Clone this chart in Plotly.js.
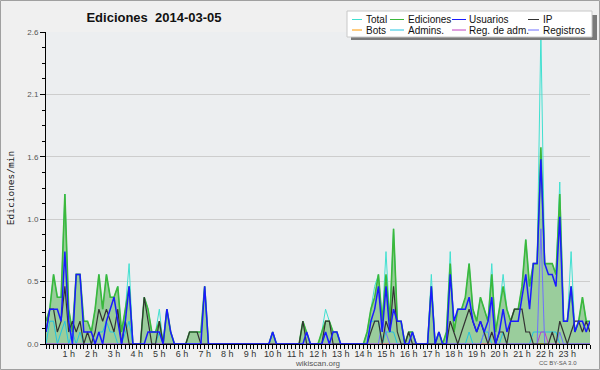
<!DOCTYPE html>
<html><head><meta charset="utf-8">
<script src="https://cdn.plot.ly/plotly-3.0.1.min.js"></script>
<style>html,body{margin:0;padding:0;background:#f0f0f0;overflow:hidden}#chart{width:600px;height:370px}</style>
</head><body><div id="chart"></div>
<script>
// ---- data (edits per minute, 10-minute bins, 00:00 .. 24:00) ----
const hourTicks = [1,2,3,4,5,6,7,8,9,10,11,12,13,14,15,16,17,18,19,20,21,22,23];
const hourLabels = ['1 h','2 h','3 h','4 h','5 h','6 h','7 h','8 h','9 h','10 h','11 h','12 h','13 h','14 h','15 h','16 h','17 h','18 h','19 h','20 h','21 h','22 h','23 h'];
const seriesNames = ['Total','Ediciones','Usuarios','IP','Bots','Admins.','Reg. de adm.','Registros'];
const seriesColors = ['#40e0d0','#3cb83c','#1a1aff','#333333','#ff9900','#22c4e0','#c040c0','#6f6fff'];

const total = [
 0.19,0.29,0.58,0.39,0.39,1.25,0.29,0.1,0.58,0.58,
 0.19,0.19,0.1,0.29,0.58,0.29,0.58,0.39,0.39,0.48,
 0.1,0.29,0.67,0,0,0,0.39,0.29,0.1,0.1,
 0.29,0,0.29,0.1,0,0,0,0,0.1,0.1,
 0.1,0.1,0.48,0,0,0,0,0,0,0,
 0,0,0,0,0,0,0,0,0,0,
 0.1,0,0,0,0,0,0,0,0.19,0.1,
 0,0,0,0.1,0.29,0.19,0.1,0.1,0,0,
 0,0,0,0,0,0.1,0.29,0.48,0.58,0.19,
 0.77,0.19,0.96,0.19,0.19,0,0.1,0.1,0,0,
 0,0,0.58,0,0.1,0,0.1,0.77,0.1,0.29,
 0.29,0.39,0.67,0.29,0.19,0.39,0.29,0.19,0.67,0.1,
 0.29,0.58,0.29,0.19,0.29,0.29,0.48,0.87,0.48,0.67,
 0.67,2.6,0.67,0.67,0.67,0.58,1.35,0.19,0.19,0.77,
 0.1,0.19,0.39,0.19,0.19];
const ediciones = [
 0.19,0.29,0.58,0.39,0.39,1.25,0.29,0.1,0.58,0.58,
 0.19,0.19,0.1,0.29,0.58,0.29,0.58,0.39,0.39,0.48,
 0.1,0.29,0.48,0,0,0,0.39,0.29,0.1,0.1,
 0.19,0,0.29,0.1,0,0,0,0,0.1,0.1,
 0.1,0.1,0.48,0,0,0,0,0,0,0,
 0,0,0,0,0,0,0,0,0,0,
 0.1,0,0,0,0,0,0,0,0.19,0.1,
 0,0,0,0.1,0.19,0.19,0.1,0.1,0,0,
 0,0,0,0,0,0.1,0.29,0.39,0.58,0.19,
 0.58,0.19,0.96,0.19,0.19,0,0.1,0.1,0,0,
 0,0,0.48,0,0.1,0,0.1,0.67,0.1,0.29,
 0.29,0.39,0.67,0.29,0.19,0.39,0.29,0.19,0.58,0.1,
 0.29,0.48,0.29,0.19,0.29,0.29,0.48,0.87,0.48,0.67,
 0.67,1.64,0.67,0.67,0.67,0.58,1.25,0.19,0.19,0.48,
 0.1,0.19,0.39,0.19,0.19];
const usuarios = [
 0.1,0.29,0.29,0.29,0.19,0.77,0.19,0,0.58,0.58,
 0.1,0.1,0.1,0,0.1,0,0.19,0.29,0.39,0.19,
 0,0.19,0.48,0,0,0,0,0.1,0.1,0.1,
 0.1,0,0.29,0.1,0,0,0,0,0,0,
 0,0,0.48,0,0,0,0,0,0,0,
 0,0,0,0,0,0,0,0,0,0,
 0.1,0,0,0,0,0,0,0,0,0.1,
 0,0,0,0,0.1,0,0.1,0.1,0,0,
 0,0,0,0,0,0,0.19,0.29,0.48,0.1,
 0.48,0.1,0.29,0.19,0.19,0,0,0.1,0,0,
 0,0,0.48,0,0.1,0,0,0.58,0.19,0.29,
 0.29,0.29,0.39,0.19,0.1,0.19,0.1,0.19,0.39,0,
 0.1,0.29,0.1,0.19,0.19,0.19,0.39,0.58,0.29,0.67,
 0.67,1.54,0.67,0.58,0.58,0.48,1.06,0.19,0.19,0.48,
 0.1,0.19,0.19,0.1,0.19];
const ip = [
 0.1,0.29,0.29,0.1,0.19,0.48,0.1,0.19,0.1,0.19,
 0,0.1,0,0.1,0.29,0.19,0.29,0.19,0.1,0.29,
 0,0.19,0,0,0,0,0.39,0.19,0,0,
 0.19,0,0,0,0,0,0,0,0.1,0.1,
 0.1,0,0,0,0,0,0,0,0,0,
 0,0,0,0,0,0,0,0,0,0,
 0,0,0,0,0,0,0,0,0.19,0,
 0,0,0,0,0.19,0.19,0,0,0,0,
 0,0,0,0,0,0,0.1,0.19,0.19,0,
 0.19,0.1,0.48,0.1,0,0,0.1,0,0,0,
 0,0,0,0,0,0,0,0.19,0.1,0,
 0.1,0.19,0.29,0.19,0.1,0.19,0.1,0,0.1,0,
 0.1,0.1,0,0.19,0.29,0.29,0.29,0.1,0.1,0,
 0,0,0,0,0.1,0,0.19,0.1,0,0.1,
 0.19,0.19,0.1,0.19,0.1];
const bots = [
 0,0,0,0,0,0,0,0,0,0, 0,0,0,0,0,0,0,0,0,0, 0,0,0,0,0,0,0,0,0,0,
 0,0,0,0,0,0,0,0,0,0, 0,0,0,0,0,0,0,0,0,0, 0,0,0,0,0,0,0,0,0,0,
 0,0,0,0,0,0,0,0,0,0, 0,0,0,0,0,0,0,0,0,0, 0,0,0,0,0,0,0,0,0,0,
 0,0,0,0,0,0,0,0,0,0, 0,0,0,0,0,0,0,0,0,0, 0,0,0,0,0,0,0,0,0,0,
 0,0,0,0,0,0,0,0,0,0, 0,0,0,0,0,0,0,0,0,0, 0,0,0,0,0];
const admins = [
 0,0.19,0.19,0,0.1,0.19,0,0.1,0,0.1,
 0,0,0,0,0.1,0.1,0.19,0.1,0.1,0,
 0,0.1,0.19,0,0,0,0,0,0,0,
 0.1,0,0,0,0,0,0,0,0,0,
 0,0,0,0,0,0,0,0,0,0,
 0,0,0,0,0,0,0,0,0,0,
 0.1,0,0,0,0,0,0,0,0,0,
 0,0,0,0,0.1,0,0,0,0,0,
 0,0,0,0,0,0,0.19,0.19,0.19,0,
 0.1,0.1,0.1,0,0,0,0,0,0,0,
 0,0,0,0,0,0,0,0,0,0,
 0,0,0.1,0,0,0,0.1,0.1,0,0,
 0,0.1,0,0,0,0,0,0,0,0.1,
 0.1,0.1,0.1,0.1,0.1,0.1,0,0,0,0,
 0,0,0,0,0];
const regAdm = [
 0,0,0,0,0,0,0,0,0,0, 0,0,0,0,0,0,0,0,0,0, 0,0,0,0,0,0,0,0,0,0,
 0,0,0,0,0,0,0,0,0,0, 0,0,0,0,0,0,0,0,0,0, 0,0,0,0,0,0,0,0,0,0,
 0,0,0,0,0,0,0,0,0,0, 0,0,0,0,0,0,0,0,0,0, 0,0,0,0,0,0,0,0,0,0,
 0,0,0,0,0,0,0,0,0,0, 0,0,0,0,0,0,0,0,0,0, 0,0,0,0,0,0,0,0,0,0,
 0,0,0,0,0,0,0,0,0,0, 0,0.1,0.1,0,0,0,0,0,0,0, 0,0,0,0,0];
const registros = [
 0,0,0,0,0,0,0,0,0,0, 0,0,0,0,0,0,0,0,0,0, 0,0,0,0,0,0,0,0,0,0,
 0,0,0,0,0,0,0,0,0,0, 0,0,0,0,0,0,0,0,0,0, 0,0,0,0,0,0,0,0,0,0,
 0,0,0,0,0,0,0,0,0,0, 0,0,0,0,0,0,0,0,0,0, 0,0,0,0,0,0,0,0,0,0.19,
 0.1,0,0,0,0,0,0,0,0,0, 0,0,0,0,0,0,0,0,0,0, 0,0,0,0,0,0,0.1,0,0.39,0,
 0,0,0,0,0,0,0,0,0,0, 0,0.96,0,0,0,0,0.1,0,0,0, 0,0,0,0,0];

// ---- plotting ----
const hours = total.map((_, i) => i / 6);
const L = 46, R = 10, T = 32, B = 26, W = 600, H = 370;
const pw = W - L - R, ph = H - T - B;
const px2x = px => (px - L) / pw;
const py2y = py => (H - B - py) / ph;

function line(y, ci, width, extra) {
  return Object.assign({x: hours, y: y, type: 'scatter', mode: 'lines', name: seriesNames[ci],
    line: {color: seriesColors[ci], width: width}, hoverinfo: 'skip', showlegend: false}, extra || {});
}
const traces = [
  line(total, 0, 1),
  line(ediciones, 1, 1.6, {fill: 'tozeroy', fillcolor: 'rgba(40,160,40,0.42)'}),
  line(bots, 4, 1),
  line(admins, 5, 1),
  line(regAdm, 6, 1),
  line(registros, 7, 1),
  line(ip, 3, 1.2),
  line(usuarios, 2, 1.5)
];

const shapes = [
  {type:'rect', xref:'paper', yref:'paper', x0:px2x(0.5), x1:px2x(599.5), y0:py2y(369.5), y1:py2y(0.5), line:{color:'#a0a0a0', width:1}, layer:'below'},
  {type:'rect', xref:'paper', yref:'paper', x0:px2x(351), x1:px2x(597), y0:py2y(40), y1:py2y(15), fillcolor:'#7a7a7a', line:{width:0}},
  {type:'rect', xref:'paper', yref:'paper', x0:px2x(347), x1:px2x(592), y0:py2y(37), y1:py2y(11), fillcolor:'#ffffff', line:{color:'#c8c8c8', width:1}}
];
const annotations = [];
const colStartLine = [352, 390, 452, 528];
const colLineEnd = [362, 404, 466, 539];
const colText = [364, 406, 467, 541];
const rowY = [19.5, 30];
const order = [0, 1, 2, 3, 4, 5, 6, 7];
order.forEach((ci, k) => {
  const col = k % 4, row = Math.floor(k / 4);
  shapes.push({type:'line', xref:'paper', yref:'paper', x0:px2x(colStartLine[col]), x1:px2x(colLineEnd[col]),
    y0:py2y(rowY[row]), y1:py2y(rowY[row]), line:{color:seriesColors[ci], width:1}});
  annotations.push({xref:'paper', yref:'paper', x:px2x(colText[col]), y:py2y(rowY[row]), xanchor:'left', yanchor:'middle',
    text: seriesNames[ci], showarrow:false, font:{family:'Liberation Sans', size:10, color:'#111'}});
});
annotations.push({xref:'paper', yref:'paper', x:px2x(579), y:py2y(363), xanchor:'right', yanchor:'middle',
  text:'CC BY-SA 3.0', showarrow:false, font:{family:'Liberation Sans', size:6, color:'#555'}});

const layout = {
  width: W, height: H,
  margin: {l: L, r: R, t: T, b: B, pad: 0},
  paper_bgcolor: '#f0f0f0', plot_bgcolor: '#eceef0',
  title: {text: '<b>Ediciones\u00a0 2014-03-05</b>', x: 154 / W, xanchor: 'center', xref: 'container',
          y: 1 - 17 / H, yref: 'container', yanchor: 'middle',
          font: {family: 'Liberation Sans', size: 13, color: '#111'}},
  xaxis: {range: [0, 24], tickmode: 'array', tickvals: hourTicks, ticktext: hourLabels,
          ticks: 'outside', ticklen: 4, tickcolor: '#000', tickwidth: 1, ticklabelstandoff: -3,
          showline: true, linecolor: '#000', linewidth: 1, showgrid: false, zeroline: false,
          tickfont: {family: 'Liberation Sans', size: 9, color: '#333'},
          minor: {tickmode: 'linear', tick0: 0, dtick: 1/6, ticks: 'outside', ticklen: 4, tickcolor: '#000', tickwidth: 1, showgrid: false},
          title: {text: 'wikiscan.org', standoff: 1, font: {family: 'Liberation Sans', size: 8, color: '#555'}},
          fixedrange: true},
  yaxis: {range: [0, 2.6001], tickmode: 'linear', tick0: 0, dtick: 0.52, tickformat: '.1f',
          ticks: 'outside', ticklen: 5, tickcolor: '#000', tickwidth: 1,
          showline: true, linecolor: '#000', linewidth: 1, showgrid: true, gridcolor: '#cdcdcd', gridwidth: 1,
          zeroline: false, tickfont: {family: 'Liberation Sans', size: 8, color: '#555'},
          minor: {tickmode: 'linear', tick0: 0, dtick: 0.13, ticks: 'outside', ticklen: 3, tickcolor: '#000', tickwidth: 1, showgrid: false},
          title: {text: 'Ediciones/min', standoff: 10, font: {family: 'DejaVu Sans Mono', size: 9.5, color: '#222'}},
          fixedrange: true},
  shapes: shapes, annotations: annotations, showlegend: false
};
Plotly.newPlot('chart', traces, layout, {displayModeBar: false, staticPlot: true});
</script></body></html>
